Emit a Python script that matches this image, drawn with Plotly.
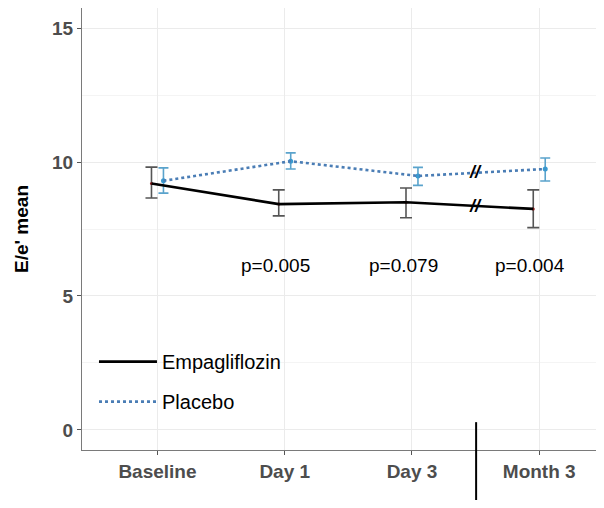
import plotly.graph_objects as go

# ---- data ----
categories = ["Baseline", "Day 1", "Day 3", "Month 3"]
emp_mean = [9.20, 8.43, 8.50, 8.25]
emp_lower = [8.66, 7.99, 7.92, 7.55]
emp_upper = [9.81, 8.96, 9.03, 8.96]
pla_mean = [9.30, 10.03, 9.48, 9.74]
pla_lower = [8.84, 9.74, 9.13, 9.29]
pla_upper = [9.78, 10.34, 9.80, 10.15]
p_labels = ["", "p=0.005", "p=0.079", "p=0.004"]
p_label_y = 6.15
y_ticks = [0, 5, 10, 15]

# ---- style ----
FONT = "Arial, Liberation Sans, Helvetica, sans-serif"
DODGE = 0.047
BLUE_LINE = "#4a7db5"
BLUE_PT = "#3a9ad0"
BLUE_ERR = "#5aa3cc"
ERR_DARK = "#555555"
X_RANGE = [-0.593, 3.446]

idx = list(range(len(categories)))
x_emp = [i - DODGE for i in idx]
x_pla = [i + DODGE for i in idx]

fig = go.Figure()

# Placebo markers + error bars
fig.add_trace(go.Scatter(
    x=x_pla, y=pla_mean, mode="markers", showlegend=False,
    marker=dict(color=BLUE_PT, size=5),
    error_y=dict(type="data", symmetric=False,
                 array=[u - m for u, m in zip(pla_upper, pla_mean)],
                 arrayminus=[m - l for m, l in zip(pla_mean, pla_lower)],
                 color=BLUE_ERR, thickness=1.6, width=5),
))
# Placebo line
fig.add_trace(go.Scatter(
    x=x_pla, y=pla_mean, mode="lines", name="Placebo",
    line=dict(color=BLUE_LINE, width=2.6, dash="dot"),
    legendgroup="b", legendrank=2,
))
# Empagliflozin markers + error bars
fig.add_trace(go.Scatter(
    x=x_emp, y=emp_mean, mode="markers", showlegend=False,
    marker=dict(color="#8b1a1a", size=3),
    error_y=dict(type="data", symmetric=False,
                 array=[u - m for u, m in zip(emp_upper, emp_mean)],
                 arrayminus=[m - l for m, l in zip(emp_mean, emp_lower)],
                 color=ERR_DARK, thickness=1.6, width=6),
))
# Empagliflozin line
fig.add_trace(go.Scatter(
    x=x_emp, y=emp_mean, mode="lines", name="Empagliflozin",
    line=dict(color="black", width=2.6),
    legendgroup="a", legendrank=1,
))

# p-value labels
for i, t in enumerate(p_labels):
    if t:
        fig.add_annotation(x=i - DODGE * 1.5, y=p_label_y, text=t, showarrow=False,
                           font=dict(family=FONT, size=19, color="black"),
                           xanchor="center", yanchor="middle")

# axis break marks "//" between Day 3 and Month 3
xb = 2.5
for series in (emp_mean, pla_mean):
    yb = (series[2] + series[3]) / 2
    fig.add_annotation(x=xb, y=yb, text="<b><i>//</i></b>", showarrow=False,
                       font=dict(family=FONT, size=18, color="black"),
                       xanchor="center", yanchor="middle")

# vertical break line below axis
fig.add_shape(type="line", xref="x", yref="paper", x0=xb + 0.004, x1=xb + 0.004,
              y0=0.063, y1=-0.13, line=dict(color="black", width=2))

fig.update_layout(
    width=588, height=492,
    margin=dict(l=74, r=0, t=0, b=50, autoexpand=False),
    paper_bgcolor="white", plot_bgcolor="white",
    font=dict(family=FONT),
    legend=dict(x=0.0233, y=0.244, xanchor="left", yanchor="top",
                traceorder="grouped", tracegroupgap=11, itemwidth=58,
                font=dict(family=FONT, size=20, color="black"),
                bgcolor="rgba(0,0,0,0)"),
)
fig.update_xaxes(
    range=X_RANGE, tickvals=idx, ticktext=categories, automargin=False,
    showgrid=True, gridcolor="#ebebeb", gridwidth=1,
    showline=True, linecolor="#7a7a7a", linewidth=1.3, mirror=True,
    ticks="outside", ticklen=4, tickcolor="#555555",
    tickfont=dict(family=FONT, size=19, color="#4d4d4d", weight="bold"),
    zeroline=False,
)
fig.update_yaxes(
    range=[-0.75, 15.75], tickvals=y_ticks, automargin=False,
    showgrid=True, gridcolor="#ebebeb", gridwidth=1,
    minor=dict(dtick=2.5, tick0=0, showgrid=True, gridcolor="#f4f4f4", gridwidth=1),
    showline=True, linecolor="#7a7a7a", linewidth=1.3,
    ticks="outside", ticklen=4, tickcolor="#555555",
    tickfont=dict(family=FONT, size=19, color="#4d4d4d", weight="bold"),
    title=dict(text="E/e' mean", standoff=18,
               font=dict(family=FONT, size=19, color="black", weight="bold")),
    zeroline=False,
)

fig.write_html("out.html")
